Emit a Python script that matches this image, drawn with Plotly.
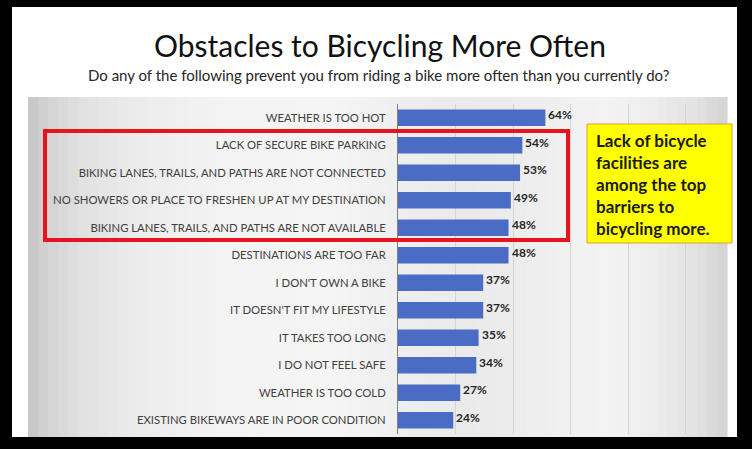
import plotly.graph_objects as go

# ---- data ----
categories = [
    "WEATHER IS TOO HOT",
    "LACK OF SECURE BIKE PARKING",
    "BIKING LANES, TRAILS, AND PATHS ARE NOT CONNECTED",
    "NO SHOWERS OR PLACE TO FRESHEN UP AT MY DESTINATION",
    "BIKING LANES, TRAILS, AND PATHS ARE NOT AVAILABLE",
    "DESTINATIONS ARE TOO FAR",
    "I DON'T OWN A BIKE",
    "IT DOESN'T FIT MY LIFESTYLE",
    "IT TAKES TOO LONG",
    "I DO NOT FEEL SAFE",
    "WEATHER IS TOO COLD",
    "EXISTING BIKEWAYS ARE IN POOR CONDITION",
]
shares = [0.64, 0.54, 0.53, 0.49, 0.48, 0.48, 0.37, 0.37, 0.35, 0.34, 0.27, 0.24]

W, H = 752, 449
FONT = "Lato, 'Open Sans', sans-serif"


def px_x(x):
    return x / W


def px_y(y):
    return 1 - y / H


fig = go.Figure()
fig.add_trace(go.Bar(
    x=shares, y=categories, orientation="h",
    marker=dict(color="#4a6cc4", line=dict(width=0)),
    width=0.6, hoverinfo="skip",
))

# value labels, a bit above the bar middle like the original
annotations = []
for c, v in zip(categories, shares):
    annotations.append(dict(
        x=v, y=c, xref="x", yref="y", text="<b>%d%%</b>" % round(v * 100),
        showarrow=False, xanchor="left", yanchor="middle", xshift=1, yshift=3,
        font=dict(family=FONT, size=12, color="#262626"),
    ))

shapes = []
# black frame + white slide
shapes.append(dict(type="rect", xref="paper", yref="paper",
                   x0=px_x(12), x1=px_x(737), y0=px_y(437), y1=px_y(7),
                   fillcolor="white", line=dict(width=0), layer="below"))

# grey gradient background of chart area, approximated with strips
profile = [(28, 196), (45, 210), (80, 224), (140, 236), (220, 243), (330, 245),
           (400, 238), (470, 234), (540, 238), (600, 243), (650, 238),
           (690, 228), (727, 212)]
x_left, x_right = 28, 727
n = 70
step = (x_right - x_left) / n
for i in range(n):
    xa = x_left + i * step
    xm = xa + step / 2
    for (p0, g0), (p1, g1) in zip(profile[:-1], profile[1:]):
        if p0 <= xm <= p1:
            g = g0 + (g1 - g0) * (xm - p0) / (p1 - p0)
            break
    g = int(round(g))
    shapes.append(dict(type="rect", xref="paper", yref="paper",
                       x0=px_x(xa), x1=px_x(xa + step + 0.6), y0=px_y(437), y1=px_y(97),
                       fillcolor="rgb(%d,%d,%d)" % (g, g, g), line=dict(width=0), layer="below"))

# red highlight box
shapes.append(dict(type="rect", xref="paper", yref="paper",
                   x0=px_x(45), x1=px_x(568), y0=px_y(240), y1=px_y(131),
                   line=dict(color="#e8141b", width=4), fillcolor="rgba(0,0,0,0)"))
# yellow callout box
shapes.append(dict(type="rect", xref="paper", yref="paper",
                   x0=px_x(587), x1=px_x(732), y0=px_y(243), y1=px_y(124),
                   line=dict(color="#e0a030", width=1), fillcolor="#ffff00"))

annotations.append(dict(
    x=px_x(594), y=px_y(184), xref="paper", yref="paper", xanchor="left", yanchor="middle",
    align="left", showarrow=False,
    text="<b>Lack of bicycle<br>facilities are<br>among the top<br>barriers to<br>bicycling more.</b>",
    font=dict(family=FONT, size=17, color="#1a1a1a"),
))
annotations.append(dict(
    x=px_x(380), y=px_y(45), xref="paper", yref="paper", showarrow=False,
    xanchor="center", yanchor="middle",
    text="Obstacles to Bicycling More Often",
    font=dict(family=FONT, size=30, color="#111111"),
))
annotations.append(dict(
    x=px_x(379), y=px_y(75), xref="paper", yref="paper", showarrow=False,
    xanchor="center", yanchor="middle",
    text="Do any of the following prevent you from riding a bike more often than you currently do?",
    font=dict(family=FONT, size=15, color="#262626"),
))

fig.update_layout(
    width=W, height=H,
    margin=dict(l=0, r=0, t=0, b=0),
    paper_bgcolor="black", plot_bgcolor="rgba(0,0,0,0)",
    showlegend=False, bargap=0.4,
    shapes=shapes, annotations=annotations,
    font=dict(family=FONT),
)
fig.update_xaxes(domain=[398 / W, 725 / W], range=[0, 1.42], dtick=0.25,
                 showgrid=True, gridcolor="#d4d4d4", gridwidth=1,
                 showticklabels=False, zeroline=False, showline=False)
fig.update_yaxes(domain=[1 - 434 / H, 1 - 104 / H], autorange="reversed",
                 showline=True, linecolor="#7f7f7f", linewidth=1,
                 ticks="", ticklabelstandoff=9,
                 tickfont=dict(family=FONT, size=11.3, color="#404040"),
                 showgrid=False)

fig.write_html("out.html", config={"displayModeBar": False},
               post_script="document.body.style.margin='0px';")
